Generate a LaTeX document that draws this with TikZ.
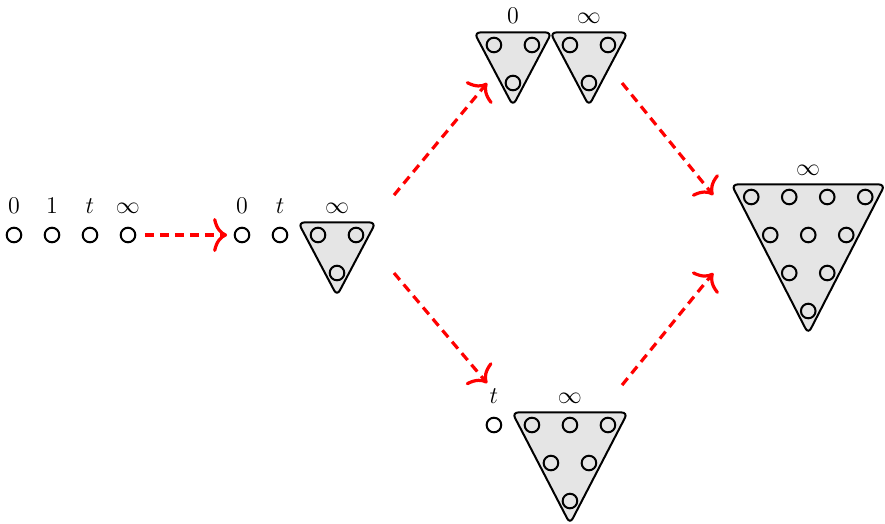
\documentclass[tikz,border=0pt]{standalone}
\usepackage{amsmath,amssymb}
\usepackage{xcolor}
\usetikzlibrary{arrows.meta}

\begin{document}
\begin{tikzpicture}[
  x=19pt, y=19pt,
  >={Computer Modern Rightarrow[length=7pt, width=17pt]},
  pole/.style={draw, circle, line width=1pt, minimum size=7.3pt, inner sep=0pt},
  bubble/.style={draw, line width=1pt, fill=black!10, rounded corners=3pt},
  tag/.style={anchor=base, inner sep=0pt, font=\fontsize{12}{14}\selectfont},
  flow/.style={->, red, line width=1.6pt, dash pattern=on 4.5pt off 3pt},
]
\useasboundingbox (-0.368,-7.579) rectangle (22.92,6.184);

% bubbles first, so the poles sit on top
\draw[bubble] (7.48,0.33) -- (9.52,0.33) -- (8.5,-1.6) -- cycle;
\draw[bubble] (12.11,5.33) -- (14.15,5.33) -- (13.13,3.4) -- cycle;
\draw[bubble] (14.11,5.33) -- (16.15,5.33) -- (15.13,3.4) -- cycle;
\draw[bubble] (13.11,-4.67) -- (16.15,-4.67) -- (14.63,-7.6) -- cycle;
\draw[bubble] (18.88,1.33) -- (22.92,1.33) -- (20.9,-2.6) -- cycle;

% four points on the line
\node[pole] (p0) at (0,0) {};
\node[pole] (p1) at (1,0) {};
\node[pole] (pt) at (2,0) {};
\node[pole] (pinf) at (3,0) {};
\node[tag] (lp0) at (0,0.56) {$0$};
\node[tag] (lp1) at (1,0.56) {$1$};
\node[tag] (lpt) at (2,0.56) {$t$};
\node[tag] (lpinf) at (3,0.56) {$\infty$};

% first collision
\node[pole] (q0) at (6,0) {};
\node[pole] (qt) at (7,0) {};
\node[pole] (qa) at (8,0) {};
\node[pole] (qb) at (9,0) {};
\node[pole] (qc) at (8.5,-1) {};
\node[tag] (lq0) at (6,0.56) {$0$};
\node[tag] (lqt) at (7,0.56) {$t$};
\node[tag] (lqinf) at (8.5,0.56) {$\infty$};

% upper branch
\node[pole] (u1) at (12.63,5) {};
\node[pole] (u2) at (13.63,5) {};
\node[pole] (u3) at (13.13,4) {};
\node[pole] (v1) at (14.63,5) {};
\node[pole] (v2) at (15.63,5) {};
\node[pole] (v3) at (15.13,4) {};
\node[tag] (lu) at (13.13,5.56) {$0$};
\node[tag] (lv) at (15.13,5.56) {$\infty$};

% lower branch
\node[pole] (w) at (12.63,-5) {};
\node[pole] (z1) at (13.63,-5) {};
\node[pole] (z2) at (14.63,-5) {};
\node[pole] (z3) at (15.63,-5) {};
\node[pole] (z4) at (14.13,-6) {};
\node[pole] (z5) at (15.13,-6) {};
\node[pole] (z6) at (14.63,-7) {};
\node[tag] (lw) at (12.63,-4.44) {$t$};
\node[tag] (lz) at (14.63,-4.44) {$\infty$};

% everything at infinity
\node[pole] (m1) at (19.4,1) {};
\node[pole] (m2) at (20.4,1) {};
\node[pole] (m3) at (21.4,1) {};
\node[pole] (m4) at (22.4,1) {};
\node[pole] (m5) at (19.9,0) {};
\node[pole] (m6) at (20.9,0) {};
\node[pole] (m7) at (21.9,0) {};
\node[pole] (m8) at (20.4,-1) {};
\node[pole] (m9) at (21.4,-1) {};
\node[pole] (m10) at (20.9,-2) {};
\node[tag] (lm) at (20.9,1.56) {$\infty$};

% arrow ends
\coordinate (up0) at (10,1.05);
\coordinate (up1) at (12.45,4);
\coordinate (dn0) at (10,-1);
\coordinate (dn1) at (12.45,-3.9);
\coordinate (jn0) at (16,4);
\coordinate (jn1) at (18.4,1.05);
\coordinate (jd0) at (16,-3.95);
\coordinate (jd1) at (18.4,-1);

\draw[flow, shorten <=4.3pt, shorten >=3.3pt] (pinf) -- (q0);
\draw[flow] (up0) -- (up1);
\draw[flow] (dn0) -- (dn1);
\draw[flow] (jn0) -- (jn1);
\draw[flow] (jd0) -- (jd1);
\end{tikzpicture}
\end{document}
